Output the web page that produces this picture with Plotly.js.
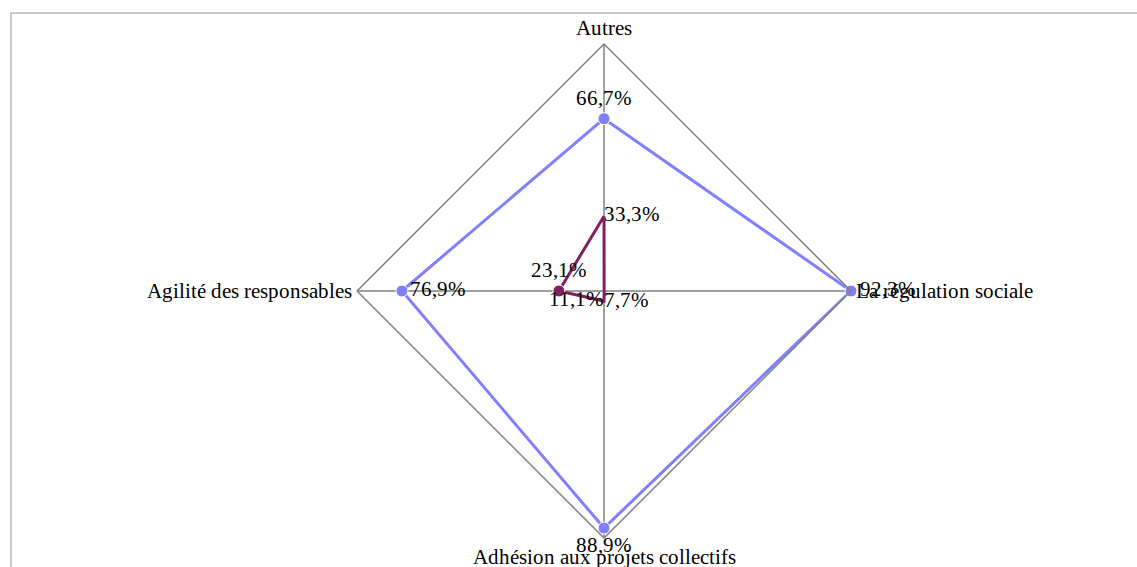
<!DOCTYPE html>
<html><head><meta charset="utf-8">
<script src="https://cdn.plot.ly/plotly-3.0.1.min.js"></script>
<style>
@font-face{font-family:'RefSerif';src:local('Liberation Serif'),local('LiberationSerif-Regular'),local('LiberationSerif'),local('Times New Roman');}
html,body{margin:0;padding:0;background:#fff;overflow:hidden}
#frame{position:absolute;left:10px;top:12px;width:1300px;height:800px;border:2px solid #c8c8c8;box-sizing:border-box}
#chart{position:absolute;left:0;top:0;width:1137px;height:567px}
</style></head><body>
<div id="frame"></div>
<div id="chart"></div>
<script>
const categories = ["Autres", "La régulation sociale", "Adhésion aux projets collectifs", "Agilité des responsables"];
const seriesBlue = [66.7, 92.3, 88.9, 76.9];
const seriesPurple = [33.3, 7.7, 11.1, 23.1];

const fmt = v => v.toFixed(1).replace('.', ',') + '%';
const close = a => a.concat([a[0]]);
const allVals = seriesBlue.concat(seriesPurple);
const rMin = Math.min(...allVals), rMax = Math.max(...allVals);

const font = {family: 'RefSerif, "Liberation Serif", "DejaVu Serif", serif', size: 21, color: '#000'};

const traces = [
  {
    type: 'scatterpolar', r: close(seriesBlue), theta: close(categories),
    mode: 'lines+markers+text',
    line: {color: '#8080ff', width: 3},
    marker: {color: '#8080ff', size: [12, 12, 12, 12, 0], opacity: 1},
    text: seriesBlue.map(fmt).concat(['']),
    textposition: ['top center', 'middle right', 'bottom center', 'middle right', 'top center'],
    textfont: font, cliponaxis: false, hoverinfo: 'skip'
  },
  {
    type: 'scatterpolar', r: close(seriesPurple), theta: close(categories),
    mode: 'lines+markers+text',
    line: {color: '#7f2060', width: 3},
    marker: {color: '#7f2060', size: [0, 0, 0, 12, 0], opacity: 1},
    text: seriesPurple.map(fmt).concat(['']),
    textposition: ['middle right', 'bottom right', 'middle left', 'top center', 'top center'],
    textfont: font, cliponaxis: false, hoverinfo: 'skip'
  }
];

const cx = 604, cy = 291, R = 247, W = 1137, H = 567;
const layout = {
  width: W, height: H,
  margin: {l: 0, r: 0, t: 0, b: 0},
  paper_bgcolor: 'rgba(0,0,0,0)',
  plot_bgcolor: 'rgba(0,0,0,0)',
  showlegend: false,
  font: font,
  polar: {
    domain: {x: [(cx - R) / W, (cx + R) / W], y: [1 - (cy + R) / H, 1 - (cy - R) / H]},
    bgcolor: 'rgba(0,0,0,0)',
    gridshape: 'linear',
    radialaxis: {range: [rMin - 0.05, rMax], visible: false},
    angularaxis: {
      direction: 'clockwise', rotation: 90,
      showline: true, linecolor: '#808080', linewidth: 1.5,
      showgrid: true, gridcolor: '#808080', gridwidth: 1.5,
      ticks: '', tickfont: font
    }
  }
};

Plotly.newPlot('chart', traces, layout, {displayModeBar: false, staticPlot: true});
</script>
</body></html>
